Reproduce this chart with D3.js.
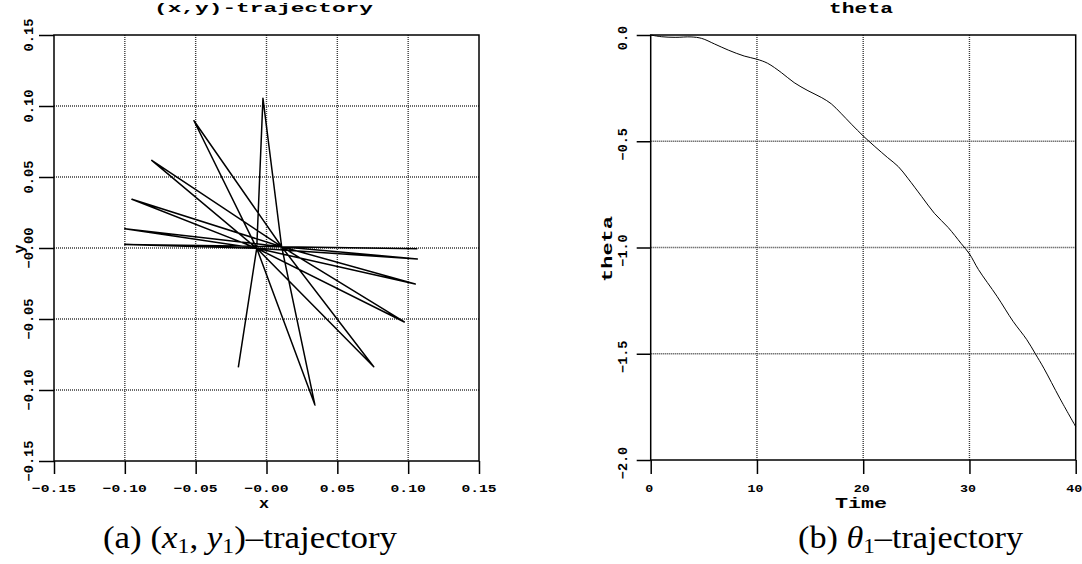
<!DOCTYPE html>
<html>
<head>
<meta charset="utf-8">
<script src="https://cdn.jsdelivr.net/npm/d3@7"></script>
<style>
  html, body { margin: 0; padding: 0; background: #fff; }
  svg { display: block; }
  .mono { font-family: "Liberation Mono", "DejaVu Sans Mono", monospace; font-weight: bold; fill: #000; }
  .cap { font-family: "Liberation Serif", "DejaVu Serif", serif; fill: #000; }
</style>
</head>
<body>
<svg id="chart" width="1082" height="564"></svg>
<script>
// (x1, y1) trajectory: sampled points of the end-effector path
const trajX = [-0.0199, -0.0069, -0.0025, 0.0107, 0.0342, -0.0069, -0.0512, 0.0107, 0.0757, -0.0069,
               -0.0810, 0.0107, 0.0973, -0.0069, -0.0950, 0.0107, 0.1050, -0.0069, -0.1000, 0.0107,
               0.1065, -0.0069, -0.1000, 0.0107, 0.1065];
const trajY = [-0.0840, -0.0002, 0.1054, 0.0009, -0.1106, -0.0002, 0.0896, 0.0009, -0.0836, -0.0002,
               0.0617, 0.0009, -0.0521, -0.0002, 0.0343, 0.0009, -0.0254, -0.0002, 0.0136, 0.0009,
               -0.0077, -0.0002, 0.0024, 0.0009, -0.0005];

// theta_1 over time
const timeVals  = [0, 1.0, 2.3, 3.8, 4.8, 6.0, 7.3, 8.8, 10.0, 11.0, 12.3, 13.5, 14.8, 16.1, 17.0, 17.9,
                   18.9, 20.0, 21.1, 22.3, 23.3, 24.2, 25.5, 26.7, 28.0, 29.2, 30.0, 30.85, 32.6, 34.1,
                   35.4, 36.2, 37.0, 38.5, 40.0];
const thetaVals = [0, -0.008, -0.011, -0.009, -0.016, -0.042, -0.071, -0.099, -0.114, -0.133, -0.177,
                   -0.224, -0.262, -0.295, -0.324, -0.368, -0.420, -0.475, -0.525, -0.577, -0.619,
                   -0.674, -0.760, -0.839, -0.906, -0.980, -1.030, -1.104, -1.230, -1.347, -1.434,
                   -1.500, -1.568, -1.709, -1.843];

// tick values and labels
const xyTicks      = [-0.15, -0.10, -0.05, 0.00, 0.05, 0.10, 0.15];
const xyTickLabels = ["\u22120.15", "\u22120.10", "\u22120.05", "\u22120.00", "0.05", "0.10", "0.15"];
const timeTicks      = [0, 10, 20, 30, 40];
const timeTickLabels = ["0", "10", "20", "30", "40"];
const thetaTicks      = [0, -0.5, -1.0, -1.5, -2.0];
const thetaTickLabels = ["0.0", "\u22120.5", "\u22121.0", "\u22121.5", "\u22122.0"];

const svg = d3.select("#chart");

// stretched monospace text helper
function monoText(g, str, x, y, size, len, rotate) {
  const t = g.append("text")
    .attr("class", "mono")
    .attr("font-size", size)
    .attr("text-anchor", "middle")
    .attr("textLength", len)
    .attr("lengthAdjust", "spacingAndGlyphs")
    .text(str);
  if (rotate) t.attr("transform", `translate(${x},${y}) rotate(-90)`);
  else t.attr("x", x).attr("y", y);
  return t;
}

function drawFrame(g, xs, ys, xGrid, yGrid) {
  const [x0, x1] = xs.range();
  const [y0, y1] = ys.range(); // y0 bottom, y1 top
  const grid = g.append("g")
    .attr("stroke", "#3a3a3a")
    .attr("stroke-width", 1.4)
    .attr("stroke-dasharray", "1,1");
  grid.selectAll(".vx").data(xGrid).join("line")
    .attr("x1", d => xs(d)).attr("x2", d => xs(d))
    .attr("y1", y1).attr("y2", y0);
  grid.selectAll(".hy").data(yGrid).join("line")
    .attr("x1", x0).attr("x2", x1)
    .attr("y1", d => ys(d)).attr("y2", d => ys(d));
  g.append("rect")
    .attr("x", x0).attr("y", y1)
    .attr("width", x1 - x0).attr("height", y0 - y1)
    .attr("fill", "none").attr("stroke", "#000").attr("stroke-width", 1.5);
}

// ---------- left panel: (x,y)-trajectory ----------
const xL = d3.scaleLinear().domain([-0.15, 0.15]).range([54, 479]);
const yL = d3.scaleLinear().domain([-0.15, 0.15]).range([461, 35]);
const gL = svg.append("g");

drawFrame(gL, xL, yL, [-0.10, -0.05, 0, 0.05, 0.10], [-0.10, -0.05, 0, 0.05, 0.10]);

const axLx = gL.append("g").attr("transform", `translate(0,${yL.range()[0]})`)
  .call(d3.axisBottom(xL).tickValues(xyTicks).tickSize(13).tickSizeOuter(0).tickFormat(""));
const axLy = gL.append("g").attr("transform", `translate(${xL.range()[0]},0)`)
  .call(d3.axisLeft(yL).tickValues(xyTicks).tickSize(15).tickSizeOuter(0).tickFormat(""));
[axLx, axLy].forEach(a => {
  a.select(".domain").remove();
  a.selectAll("line").attr("stroke", "#000").attr("stroke-width", 1.5);
});

xyTicks.forEach((v, i) => {
  const s = xyTickLabels[i];
  monoText(gL, s, xL(v), 492, 11.5, s.length * 8.8, false);
  monoText(gL, s, 33, yL(v), 12.5, s.length * 8.2, true);
});

const lineL = d3.line().x((d, i) => xL(trajX[i])).y((d, i) => yL(trajY[i]));
gL.append("path")
  .datum(trajX)
  .attr("d", lineL)
  .attr("fill", "none")
  .attr("stroke", "#000")
  .attr("stroke-width", 1.5)
  .attr("stroke-linejoin", "round");

monoText(gL, "(x,y)-trajectory", 263.5, 11.5, 13.5, 219, false);
monoText(gL, "x", 264, 508, 14, 10, false);
monoText(gL, "y", 24, 249, 14, 9, true);

// ---------- right panel: theta ----------
const xR = d3.scaleLinear().domain([0, 40]).range([650.7, 1075.7]);
const yR = d3.scaleLinear().domain([-2.0, 0]).range([460, 35]);
const gR = svg.append("g");

drawFrame(gR, xR, yR, [10, 20, 30], [-0.5, -1.0, -1.5]);

const axRx = gR.append("g").attr("transform", `translate(0,${yR.range()[0]})`)
  .call(d3.axisBottom(xR).tickValues(timeTicks).tickSize(14).tickSizeOuter(0).tickFormat(""));
const axRy = gR.append("g").attr("transform", `translate(${xR.range()[0]},0)`)
  .call(d3.axisLeft(yR).tickValues(thetaTicks).tickSize(14).tickSizeOuter(0).tickFormat(""));
[axRx, axRy].forEach(a => {
  a.select(".domain").remove();
  a.selectAll("line").attr("stroke", "#000").attr("stroke-width", 1.5);
});

timeTicks.forEach((v, i) => {
  const s = timeTickLabels[i];
  monoText(gR, s, xR(v) - 1.5, 492, 10.5, s.length * 8, false);
});
thetaTicks.forEach((v, i) => {
  const s = thetaTickLabels[i];
  monoText(gR, s, 627, yR(v) + 3, 12.5, s.length * 8.1, true);
});

const lineR = d3.line()
  .x((d, i) => xR(timeVals[i]))
  .y((d, i) => yR(thetaVals[i]))
  .curve(d3.curveCatmullRom);
gR.append("path")
  .datum(timeVals)
  .attr("d", lineR)
  .attr("fill", "none")
  .attr("stroke", "#000")
  .attr("stroke-width", 1);

monoText(gR, "theta", 861, 12.5, 14, 64, false);
monoText(gR, "Time", 861, 508, 15, 52, false);
monoText(gR, "theta", 612, 249, 15, 66, true);

// ---------- captions ----------
const capA = svg.append("text").attr("class", "cap")
  .attr("x", 250).attr("y", 548).attr("font-size", 31).attr("text-anchor", "middle")
  .attr("textLength", 294).attr("lengthAdjust", "spacingAndGlyphs");
capA.append("tspan").text("(a) (");
capA.append("tspan").attr("font-style", "italic").text("x");
capA.append("tspan").attr("font-size", 21).attr("dy", 5).text("1");
capA.append("tspan").attr("dy", -5).text(", ");
capA.append("tspan").attr("font-style", "italic").text("y");
capA.append("tspan").attr("font-size", 21).attr("dy", 5).text("1");
capA.append("tspan").attr("dy", -5).text(")\u2013trajectory");

const capB = svg.append("text").attr("class", "cap")
  .attr("x", 910.5).attr("y", 548).attr("font-size", 31).attr("text-anchor", "middle")
  .attr("textLength", 225).attr("lengthAdjust", "spacingAndGlyphs");
capB.append("tspan").text("(b) ");
capB.append("tspan").attr("font-style", "italic").text("\u03b8");
capB.append("tspan").attr("font-size", 21).attr("dy", 5).text("1");
capB.append("tspan").attr("dy", -5).text("\u2013trajectory");
</script>
</body>
</html>
